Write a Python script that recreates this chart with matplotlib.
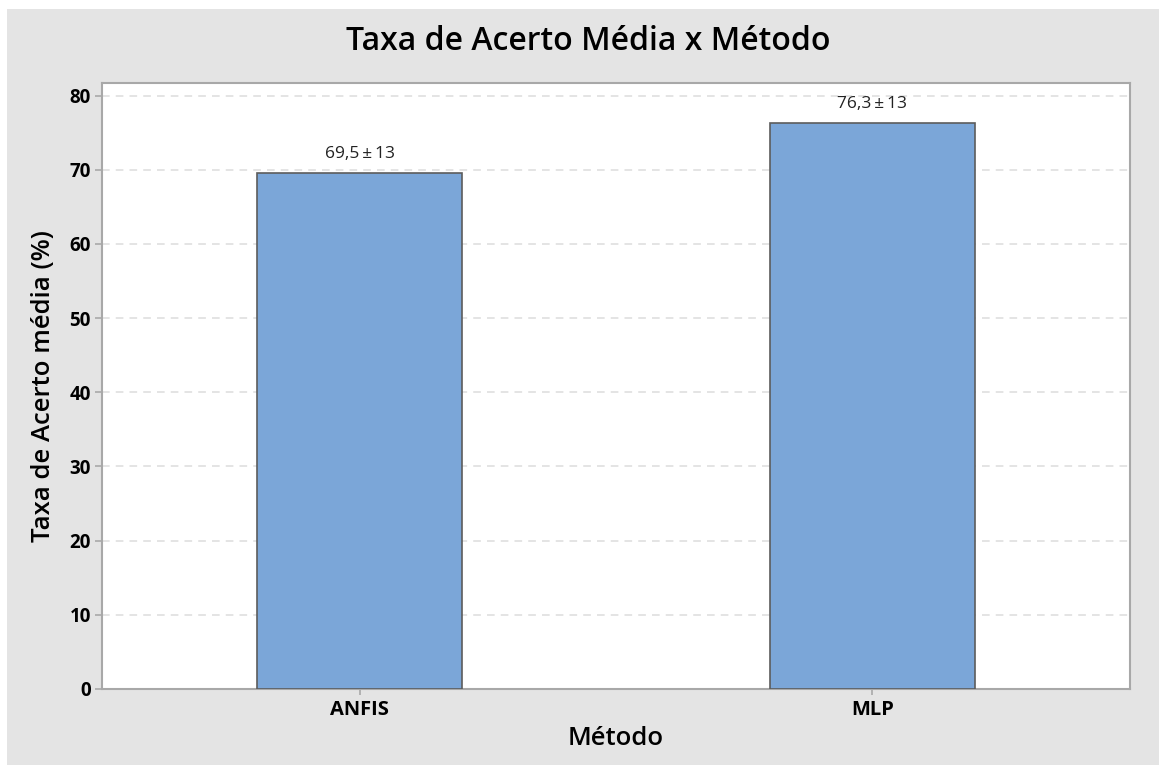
import numpy as np
import matplotlib
matplotlib.use('Agg')
import matplotlib.pyplot as plt
from matplotlib.patches import Rectangle

metodos = ['ANFIS', 'MLP']
taxa_media = [69.5, 76.3]
desvio = [13, 13]
yticks = [0, 10, 20, 30, 40, 50, 60, 70, 80]

plt.rcParams['font.family'] = ['Open Sans', 'DejaVu Sans']

fig = plt.figure(figsize=(11.59, 7.65), dpi=100)
fig.patch.set_facecolor('white')
# gray panel behind everything
fig.patches.append(Rectangle((7 / 1159, 0), 1, 756 / 765, transform=fig.transFigure,
                             facecolor='#e4e4e4', edgecolor='none', zorder=-10))

ax = fig.add_axes([102 / 1159, 76 / 765, 1028 / 1159, 606 / 765])
ax.set_facecolor('white')

x = np.arange(len(metodos))
bars = ax.bar(x, taxa_media, width=0.4, color='#7ba6d8', edgecolor='#5c5c5c',
              linewidth=1.2, zorder=3)

for xi, v, d in zip(x, taxa_media, desvio):
    ax.annotate(('%.1f' % v).replace('.', ',') + '\u2009\u00b1\u2009' + str(d), (xi, v),
                xytext=(0, 8), textcoords='offset points', ha='center', va='bottom',
                fontsize=12.5, color='#222222')

ax.set_xlim(-0.502, 1.502)
ax.set_ylim(0, 81.7)
ax.set_xticks(x)
ax.set_xticklabels(metodos, fontsize=14.5, fontweight='bold')
ax.set_yticks(yticks)
ax.set_yticklabels([str(t) for t in yticks], fontsize=13.5, fontweight='bold')

ax.yaxis.grid(True, linestyle=(0, (5, 4)), color='#dcdcdc', linewidth=1.1, zorder=0)
ax.set_axisbelow(True)

for s in ax.spines.values():
    s.set_color('#a8a8a8')
    s.set_linewidth(1.5)
ax.tick_params(axis='y', length=5, width=1.2, color='#a8a8a8', pad=3)
ax.tick_params(axis='x', length=4, width=1.2, color='#a8a8a8', pad=4)

ax.set_xlabel('Método', fontsize=18.5, fontweight='semibold', labelpad=4)
ax.set_ylabel('Taxa de Acerto média (%)', fontsize=18.5, fontweight='semibold', labelpad=10)
fig.text(588 / 1159, 1 - 42 / 765, 'Taxa de Acerto Média x Método', ha='center', va='center',
         fontsize=23, fontweight='semibold')

fig.savefig('out.png', dpi=100, facecolor=fig.get_facecolor())
